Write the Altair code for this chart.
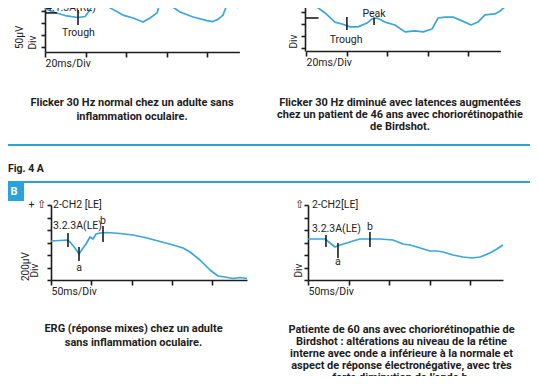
import altair as alt
import pandas as pd

# ---------------- data ----------------
# Panel A left : Flicker 30 Hz, normal (time in ms, amplitude in µV)
a1_t = [0, 4.9, 9.9, 16.3, 19.8, 22.2, 24.2, 25.7, 27.2, 32.1, 38.5, 43.5, 48.4, 51.9, 55.3,
        57.8, 60.2, 66.7, 73.1, 80.0, 83.0, 85.4, 87.9, 90.4, 92.3, 95.3]
a1_v = [160, 144, 131, 123, 127, 154, 188, 208, 196, 163, 133, 121, 104, 121, 142,
        208, 183, 146, 125, 110, 106, 115, 133, 188, 183, 163]
a1_marks_t = [16.3, 25.7]
a1_marks_v = [92, 171]
a1_marks_v2 = [154, 240]
a1_base_t, a1_base_t2, a1_base_v = [0], [5.9], [142]
a1_lab_l, a1_lab_l_t, a1_lab_l_v = ["4.1.3A(RE)"], [0.5], [163]
a1_lab_c, a1_lab_c_t, a1_lab_c_v = ["Trough"], [16.5], [58]

# Panel A right : Flicker 30 Hz, Birdshot
a2_t = [2.5, 5.4, 9.4, 14.3, 17.8, 21.7, 25.7, 30.1, 32.6, 35.1, 39.0, 43.9, 48.9, 53.8, 57.8,
        62.2, 65.2, 68.6, 72.6, 77.0, 81.5, 84.9, 88.4, 93.3, 95.8, 99.3]
a2_v = [212, 171, 146, 108, 100, 88, 88, 104, 121, 125, 108, 96, 67, 71, 67,
        79, 125, 129, 129, 113, 96, 108, 138, 142, 154, 179]
a2_marks_t = [20.2, 33.6]
a2_marks_v = [75, 96]
a2_marks_v2 = [129, 127]
a2_base_t, a2_base_t2, a2_base_v = [0], [6.2], [125]
a2_lab_c, a2_lab_c_t, a2_lab_c_v = ["Peak", "Trough"], [33.6, 19.8], [143, 33]

# Panel B left : ERG mixed response, normal
b1_t = [0, 11.2, 19.9, 23.6, 29.8, 34.8, 39.8, 43.5, 48.4, 52.2, 55.9, 60.9, 69.6, 85.7, 101.9,
        119.3, 135.4, 151.6, 164.0, 172.7, 185.1, 197.5, 207.5, 216.1, 226.1, 234.8, 243.5]
b1_v = [624, 632, 640, 608, 512, 416, 512, 576, 688, 656, 736, 752, 760, 744, 720,
        672, 616, 560, 512, 448, 320, 160, 64, 48, 24, 40, 24]
b1_marks_t = [21.1, 34.8, 64.6]
b1_marks_v = [528, 304, 608]
b1_marks_v2 = [752, 528, 864]
b1_lab_l, b1_lab_l_t, b1_lab_l_v = ["2-CH2 [LE]", "3.2.3A(LE)"], [2.5, 2.5], [1200, 864]
b1_lab_c, b1_lab_c_t, b1_lab_c_v = ["a", "b"], [34.8, 64.6], [192, 944]
b1_lab_r, b1_lab_r_t, b1_lab_r_v = ["+ \u21e7"], [-6.2], [1200]

# Panel B right : ERG mixed response, Birdshot
b2_t = [0, 12.3, 21.0, 27.2, 33.3, 39.5, 48.1, 55.6, 64.2, 76.5, 88.9, 104.9, 117.3, 125.9, 134.6,
        150.6, 159.3, 166.7, 179.0, 191.4, 202.5, 212.3, 224.7, 233.3, 240.7]
b2_v = [656, 656, 656, 592, 528, 560, 592, 624, 656, 656, 656, 640, 576, 560, 528,
        464, 464, 448, 400, 368, 352, 368, 432, 496, 560]
b2_marks_t = [22.2, 37.0, 76.5]
b2_marks_v = [528, 352, 528]
b2_marks_v2 = [720, 592, 768]
b2_lab_l, b2_lab_l_t, b2_lab_l_v = ["2-CH2[LE]", "3.2.3A(LE)"], [4.9, 4.9], [1200, 816]
b2_lab_c, b2_lab_c_t, b2_lab_c_v = ["a", "b"], [37.0, 76.5], [288, 848]
b2_lab_r, b2_lab_r_t, b2_lab_r_v = ["\u21e7"], [-4.9], [1200]

x_ticks_a = [0, 20, 40, 60, 80]
y_ticks_a = [0, 50, 100, 150]
x_ticks_b = [0, 50, 100, 150, 200]
y_ticks_b = [0, 200, 400, 600, 800, 1000, 1200]

unit_a = "50µV"
unit_b = "200µV"
cap_a1 = "Flicker 30 Hz normal chez un adulte sans\ninflammation oculaire."
cap_a2 = ("Flicker 30 Hz diminué avec latences augmentées\n"
          "chez un patient de 46 ans avec choriorétinopathie\nde Birdshot.")
cap_b1 = "ERG (réponse mixes) chez un adulte\nsans inflammation oculaire."
cap_b2 = ("Patiente de 60 ans avec choriorétinopathie de\n"
          "Birdshot : altérations au niveau de la rétine\n"
          "interne avec onde a inférieure à la normale et\n"
          "aspect de réponse électronégative, avec très\n"
          "forte diminution de l\u2019onde b.")
fig_label = "Fig. 4 A"
panel_label = "B"

# ---------------- layout / style ----------------
W, H = 522, 368
OX, OY = 8, 8          # page margin: page pixel -> chart pixel
BLUE = "#2aa2dc"
TRACE = "#3aa6dc"
INK = "#1c1c1c"
FONT = "Roboto"


def panel(x0, xppu, xdom, y0, yppu, ydom, xaxis_y, yaxis_x, xticks, yticks,
          xtitle, ytitle_x, tr_t, tr_v, mk_t, mk_v, mk_v2,
          base=None, lab_l=None, lab_c=None, lab_r=None):
    xs = alt.Scale(domain=xdom, range=[x0 + xdom[0] * xppu - OX, x0 + xdom[1] * xppu - OX],
                   nice=False, zero=False)
    ys = alt.Scale(domain=ydom, range=[y0 - ydom[0] * yppu - OY, y0 - ydom[1] * yppu - OY],
                   nice=False, zero=False)
    common = dict(grid=False, labels=False, domainColor=INK, domainWidth=1.6,
                  tickColor=INK, tickWidth=1.6, titleFont=FONT, titleFontWeight="normal",
                  titleColor=INK)
    xa = alt.Axis(orient="bottom", offset=(xaxis_y - OY) - H, values=xticks, tickSize=5,
                  title=xtitle, titleX=x0 - OX, titleY=11, titleAlign="left",
                  titleBaseline="middle", titleFontSize=10.5, **common)
    ya = alt.Axis(orient="left", offset=-(yaxis_x - OX), values=yticks, tickSize=4,
                  title="Div", titleAngle=270, titleX=ytitle_x, titleY=(xaxis_y - 3) - OY,
                  titleAlign="left", titleBaseline="middle", titleFontSize=10, **common)
    X = lambda f: alt.X(f, type="quantitative", scale=xs, axis=xa)
    Y = lambda f: alt.Y(f, type="quantitative", scale=ys, axis=ya)

    layers = [
        alt.Chart(pd.DataFrame({"t": tr_t, "v": tr_v})).mark_line(
            color=TRACE, strokeWidth=1.7, strokeJoin="round").encode(x=X("t"), y=Y("v")),
        alt.Chart(pd.DataFrame({"t": mk_t, "v": mk_v, "v2": mk_v2})).mark_rule(
            color=INK, strokeWidth=1.6).encode(x=X("t"), y=Y("v"), y2="v2"),
    ]
    if base:
        layers.append(alt.Chart(pd.DataFrame({"t": base[0], "t2": base[1], "v": base[2]})).mark_rule(
            color=INK, strokeWidth=1.6).encode(x=X("t"), x2="t2", y=Y("v")))
    for lab, al in ((lab_l, "left"), (lab_c, "center"), (lab_r, "right")):
        if lab:
            layers.append(alt.Chart(pd.DataFrame({"s": lab[0], "t": lab[1], "v": lab[2]})).mark_text(
                align=al, baseline="middle", font=FONT, fontSize=10.5, color=INK).encode(
                x=X("t"), y=Y("v"), text="s:N"))
    return alt.layer(*layers)


pA1 = panel(45, 2.025, [0, 96], 47, 0.24, [-20, 200], 52, 45, x_ticks_a, y_ticks_a,
            "20ms/Div", -13,
            a1_t, a1_v, a1_marks_t, a1_marks_v, a1_marks_v2,
            base=(a1_base_t, a1_base_t2, a1_base_v),
            lab_l=(a1_lab_l, a1_lab_l_t, a1_lab_l_v),
            lab_c=(a1_lab_c, a1_lab_c_t, a1_lab_c_v))
pA2 = panel(306, 2.025, [0, 96], 48, 0.24, [-12.5, 200], 51, 305, x_ticks_a, y_ticks_a,
            "20ms/Div", -12,
            a2_t, a2_v, a2_marks_t, a2_marks_v, a2_marks_v2,
            base=(a2_base_t, a2_base_t2, a2_base_v),
            lab_c=(a2_lab_c, a2_lab_c_t, a2_lab_c_v))
pB1 = panel(51, 0.805, [0, 243.5], 280, 0.0625, [0, 1200], 280, 51, x_ticks_b, y_ticks_b,
            "50ms/Div", -17,
            b1_t, b1_v, b1_marks_t, b1_marks_v, b1_marks_v2,
            lab_l=(b1_lab_l, b1_lab_l_t, b1_lab_l_v),
            lab_c=(b1_lab_c, b1_lab_c_t, b1_lab_c_v),
            lab_r=(b1_lab_r, b1_lab_r_t, b1_lab_r_v))
pB2 = panel(308, 0.81, [0, 240.7], 280, 0.0625, [0, 1200], 280, 308, x_ticks_b, y_ticks_b,
            "50ms/Div", -10,
            b2_t, b2_v, b2_marks_t, b2_marks_v, b2_marks_v2,
            lab_l=(b2_lab_l, b2_lab_l_t, b2_lab_l_v),
            lab_c=(b2_lab_c, b2_lab_c_t, b2_lab_c_v),
            lab_r=(b2_lab_r, b2_lab_r_t, b2_lab_r_v))

one = pd.DataFrame({"k": [0]})


def box(x1, x2, y1, y2, filled=False):
    m = alt.Chart(one).mark_rect(
        fill=BLUE if filled else None, fillOpacity=1 if filled else 0,
        stroke=BLUE, strokeWidth=2)
    return m.encode(x=alt.value(x1 - OX), x2=alt.value(x2 - OX),
                    y=alt.value(y1 - OY), y2=alt.value(y2 - OY))


def text(s, x, y, size, align="center", weight="bold", color=INK, lh=12.5, angle=0,
         baseline="middle"):
    # y is the centre of the first line
    return alt.Chart(pd.DataFrame({"s": [s]})).mark_text(
        align=align, baseline=baseline, font=FONT, fontSize=size, fontWeight=weight,
        color=color, lineBreak="\n", lineHeight=lh, angle=angle).encode(
        text="s:N", x=alt.value(x - OX), y=alt.value(y - OY))


decor = [
    box(4, 531, -20, 145),
    box(4, 531, 182, 420),
    box(4, 23, 182, 200, filled=True),
    text(panel_label, 14, 191.5, 11, color="white"),
    text(fig_label, 8, 169, 10.5, align="left"),
    text(unit_a, 19.5, 49, 10, align="left", weight="normal", angle=270),
    text(unit_b, 26, 281, 10, align="left", weight="normal", angle=270),
    text(cap_a1, 132, 103, 11, lh=14),
    text(cap_a2, 400, 103, 11, lh=12),
    text(cap_b1, 133.5, 329, 11, lh=14),
    text(cap_b2, 401.5, 330, 11, lh=12),
]

chart = alt.layer(*decor, pA1, pA2, pB1, pB2).resolve_scale(
    x="independent", y="independent").resolve_axis(x="independent", y="independent").properties(
    width=W, height=H, padding=0, autosize="none", background="white"
).configure_view(stroke=None)

chart.save("out.html", embed_options={"renderer": "svg", "actions": False})
